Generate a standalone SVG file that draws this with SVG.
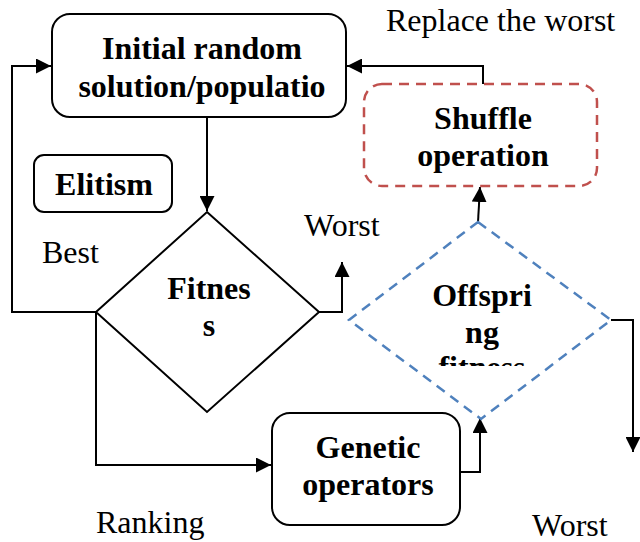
<svg xmlns="http://www.w3.org/2000/svg" width="640" height="542" viewBox="0 0 640 542">
  <style>
    .box { fill: #fff; stroke: #000; stroke-width: 2; }
    .shuffle { fill: #fff; stroke: #C0504D; stroke-width: 2.5; stroke-dasharray: 10 7; }
    .offspring { fill: #fff; stroke: #4F81BD; stroke-width: 2.5; stroke-dasharray: 10 7; }
    .diamond { fill: #fff; stroke: #000; stroke-width: 2; }
    .edge { fill: none; stroke: #000; stroke-width: 2; }
    .title { font-family: "Liberation Serif", "Times New Roman", serif; font-weight: bold; font-size: 32px; text-anchor: middle; fill: #000; }
    .label { font-family: "Liberation Serif", "Times New Roman", serif; font-size: 32px; fill: #000; }
  </style>
  <defs>
    <marker id="arrow" markerWidth="15" markerHeight="15" viewBox="0 0 15 15" refX="15" refY="7.5" orient="auto" markerUnits="userSpaceOnUse">
      <path d="M0,0 L15,7.5 L0,15 Z" fill="#000"/>
    </marker>
    <clipPath id="clip-offspring-text">
      <rect x="340" y="260" width="280" height="106"/>
    </clipPath>
  </defs>

  <rect width="640" height="542" fill="#fff"/>

  <!-- connectors -->
  <g id="connectors">
    <!-- initial population down to fitness -->
    <path class="edge" d="M207,117 L207,211" marker-end="url(#arrow)"/>
    <!-- best: back to initial population -->
    <path class="edge" d="M96,312 L12,312 L12,66 L51,66" marker-end="url(#arrow)"/>
    <!-- ranking: to genetic operators -->
    <path class="edge" d="M96,312 L96,465 L271,465" marker-end="url(#arrow)"/>
    <!-- worst out of fitness -->
    <path class="edge" d="M319,312 L342,312 L342,262" marker-end="url(#arrow)"/>
    <!-- genetic operators to offspring fitness -->
    <path class="edge" d="M460,472 L480,472 L480,418" marker-end="url(#arrow)"/>
    <!-- offspring fitness to shuffle -->
    <path class="edge" d="M478,222 L480,187" marker-end="url(#arrow)"/>
    <!-- replace the worst: shuffle back to initial population -->
    <path class="edge" d="M483,84 L483,66 L347,66" marker-end="url(#arrow)"/>
    <!-- worst out of offspring fitness -->
    <path class="edge" d="M611,320 L633,320 L633,452" marker-end="url(#arrow)"/>
  </g>

  <g id="initial">
    <rect class="box" x="52" y="14" width="294" height="103" rx="18"/>
    <text class="title" x="202" y="59">Initial random</text>
    <text class="title" x="202" y="97">solution/populatio</text>
  </g>

  <g id="elitism">
    <rect class="box" x="34" y="155" width="138" height="57" rx="10"/>
    <text class="title" x="104" y="195">Elitism</text>
  </g>

  <g id="shuffle">
    <rect class="shuffle" x="364" y="84" width="233" height="102" rx="18"/>
    <text class="title" x="483" y="129">Shuffle</text>
    <text class="title" x="483" y="166">operation</text>
  </g>

  <g id="fitness">
    <polygon class="diamond" points="207,212 319,312 207,412 96,312"/>
    <text class="title" x="209" y="299">Fitnes</text>
    <text class="title" x="209" y="336">s</text>
  </g>

  <g id="offspring-fitness">
    <polygon class="offspring" points="478,222 611,320 481,419 349,320"/>
    <g clip-path="url(#clip-offspring-text)">
      <text class="title" x="482" y="306">Offspri</text>
      <text class="title" x="482" y="343">ng</text>
      <text class="title" x="482" y="378">fitness</text>
    </g>
  </g>

  <g id="genetic">
    <rect class="box" x="272" y="413" width="188" height="112" rx="18"/>
    <text class="title" x="368" y="458">Genetic</text>
    <text class="title" x="368" y="495">operators</text>
  </g>

  <g id="labels">
    <text class="label" x="386" y="31">Replace the worst</text>
    <text class="label" x="304" y="236">Worst</text>
    <text class="label" x="42" y="263">Best</text>
    <text class="label" x="96" y="533">Ranking</text>
    <text class="label" x="532" y="536">Worst</text>
  </g>
</svg>
